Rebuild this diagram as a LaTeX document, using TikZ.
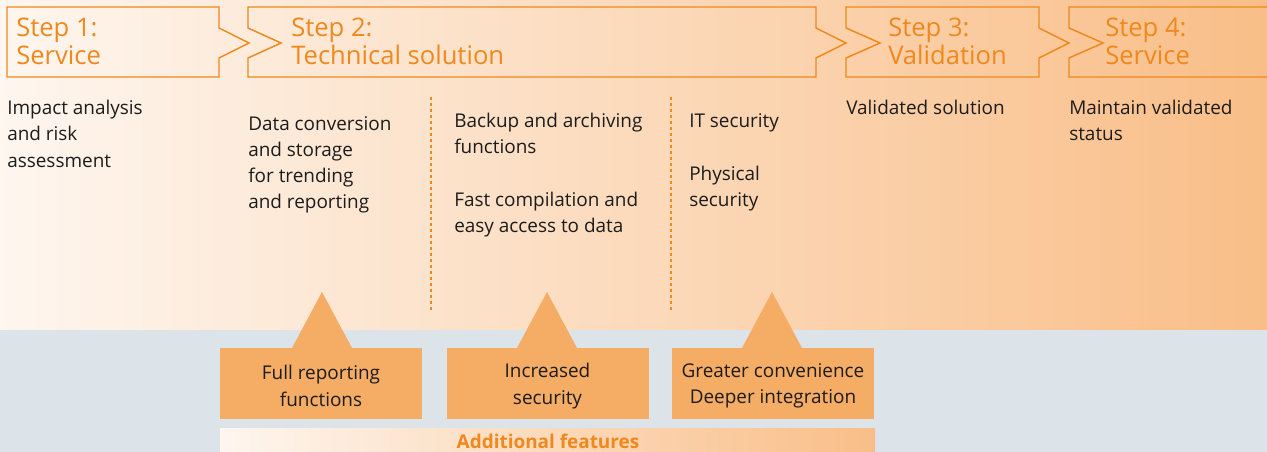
\documentclass[tikz,border=0pt]{standalone}
\usepackage{fontspec}
\setmainfont{Open Sans}
\definecolor{bgL}{RGB}{254,246,239}
\definecolor{bgR}{RGB}{249,190,136}
\definecolor{band}{RGB}{220,227,233}
\definecolor{stepor}{RGB}{240,136,28}
\definecolor{boxor}{RGB}{245,172,100}
\definecolor{ink}{RGB}{28,28,28}
\begin{document}
\begin{tikzpicture}[x=0.75pt,y=-0.75pt,
  steppath/.style={draw=stepor,line width=1.1pt,line join=miter},
  steptext/.style={anchor=north west,inner sep=0pt,align=left,text=stepor,font=\fontsize{19.2}{21}\selectfont},
  body/.style={anchor=north west,inner sep=0pt,align=left,text=ink,font=\fontsize{14.2}{19.7}\selectfont},
  sep/.style={draw=stepor,line width=0.8pt,dash pattern=on 2.5pt off 2pt},
  featbox/.style={fill=boxor,minimum width=151.5pt,minimum height=53.25pt,inner sep=0pt},
  feattext/.style={inner sep=0pt,align=center,text=ink,font=\fontsize{14.2}{19.7}\selectfont},
  tri/.style={fill=boxor}]
\useasboundingbox (0,0) rectangle (1267,452);
\shade[left color=bgL,right color=bgR] (0,0) rectangle (1267,330);
\fill[band] (0,330) rectangle (1267,452);
% step shapes
\draw[steppath] (7,7) -- (219,7) -- (219,28) -- (249,43) -- (219,58) -- (219,77) -- (7,77) -- cycle;
\draw[steppath] (248,7) -- (816,7) -- (816,28) -- (846,43) -- (816,58) -- (816,77) -- (248,77) -- (248,58) -- (281,43) -- (248,28) -- cycle;
\draw[steppath] (846,7) -- (1039,7) -- (1039,28) -- (1069,43) -- (1039,58) -- (1039,77) -- (846,77) -- (846,58) -- (880,43) -- (846,28) -- cycle;
\draw[steppath] (1268,7) -- (1069,7) -- (1069,28) -- (1103,43) -- (1069,58) -- (1069,77) -- (1268,77);
\node[steptext] (s1) at (16,18) {Step 1:\\Service};
\node[steptext] (s2) at (291,18) {Step 2:\\Technical solution};
\node[steptext] (s3) at (888,18) {Step 3:\\Validation};
\node[steptext] (s4) at (1105,18) {Step 4:\\Service};
% body texts
\node[body] (imp) at (7,100) {Impact analysis\\and risk\\assessment};
\node[body] (data) at (248,116) {Data conversion\\and storage\\for trending\\and reporting};
\node[body] (backup) at (454,113) {Backup and archiving\\functions};
\node[body] (fast) at (454,192) {Fast compilation and\\easy access to data};
\node[body] (itsec) at (689,113) {IT security};
\node[body] (phys) at (689,166) {Physical\\security};
\node[body] (valid) at (846,100) {Validated solution};
\node[body] (maint) at (1069,100) {Maintain validated\\status};
% separators
\draw[sep] (431,97) -- (431,310);
\draw[sep] (671,97) -- (671,310);
% feature boxes
\fill[tri] (292,348) -- (322,292) -- (352,348) -- cycle;
\fill[tri] (517,348) -- (547,292) -- (577,348) -- cycle;
\fill[tri] (742,348) -- (772,292) -- (802,348) -- cycle;
\node[featbox] (f1) at (321,383) {};
\node[featbox] (f2) at (547.5,383) {};
\node[featbox] (f3) at (773,383) {};
\node[feattext] (t1) at (321,386) {Full reporting\\functions};
\node[feattext] (t2) at (547.5,386) {Increased\\security};
\node[feattext] (t3) at (773,386) {Greater convenience\\Deeper integration};
\shade[left color=bgL,right color=bgR] (220,428) rectangle (875,453);
\node[text=stepor,font=\fontsize{14.2}{15}\selectfont\bfseries,inner sep=0pt] (add) at (548,441) {Additional features};
\end{tikzpicture}
\end{document}
